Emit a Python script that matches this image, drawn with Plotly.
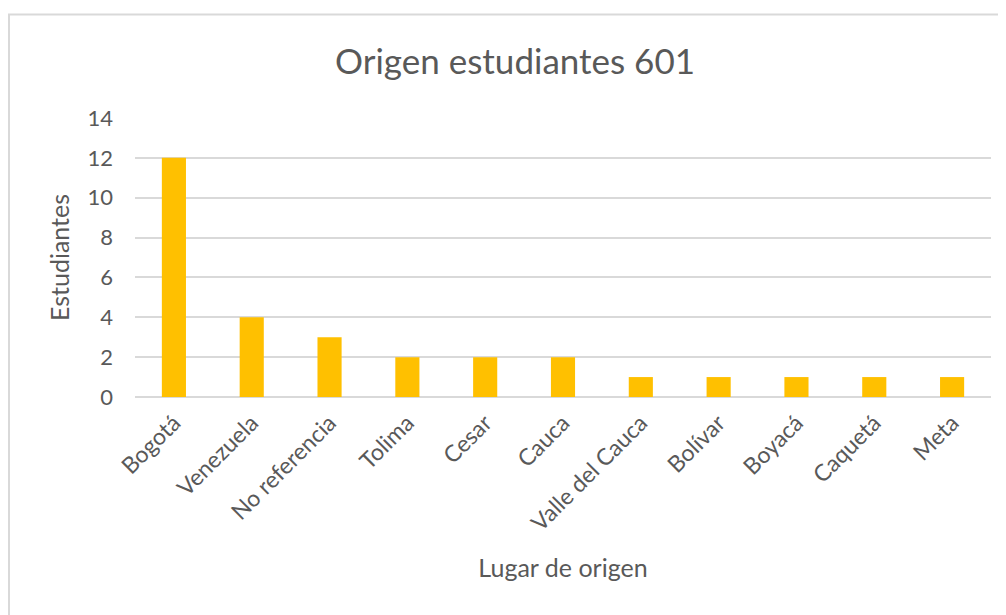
import plotly.graph_objects as go

categories = ["Bogotá", "Venezuela", "No referencia", "Tolima", "Cesar", "Cauca",
              "Valle del Cauca", "Bolívar", "Boyacá", "Caquetá", "Meta"]
estudiantes = [12, 4, 3, 2, 2, 2, 1, 1, 1, 1, 1]
y_ticks = [0, 2, 4, 6, 8, 10, 12, 14]

FONT = "Lato, Calibri, Carlito, sans-serif"
TXT = "#595959"
GRID = "#D9D9D9"

# page body has an 8px offset; plot area placed to match
L, T, W, H = 127, 110, 856, 279

fig = go.Figure(go.Bar(x=categories, y=estudiantes, marker_color="#FFC000",
                       marker_line_width=0))

fig.update_layout(
    width=1006, height=615,
    margin=dict(l=L, r=1006 - L - W, t=T, b=615 - T - H),
    paper_bgcolor="white", plot_bgcolor="white",
    bargap=0.69,
    showlegend=False,
    font=dict(family=FONT, color=TXT),
    title=dict(text="Origen estudiantes 601", x=507 / 1006, xanchor="center",
               y=1 - 54 / 615, yanchor="middle",
               font=dict(size=35, color=TXT, family=FONT)),
    xaxis=dict(tickangle=-45, tickfont=dict(size=23, color=TXT),
               showgrid=False, showline=False, ticks="", ticklabelstandoff=7,
               title=dict(text="Lugar de origen", font=dict(size=25, color=TXT),
                          standoff=24)),
    yaxis=dict(range=[0, 14], tickvals=y_ticks, tickfont=dict(size=22, color=TXT),
               showgrid=True, gridcolor=GRID, gridwidth=2,
               zeroline=True, zerolinecolor=GRID, zerolinewidth=2,
               showline=False, ticks="", ticklabelstandoff=21,
               title=dict(text="Estudiantes", font=dict(size=25, color=TXT),
                          standoff=10)),
)

fig.add_shape(type="rect", xref="paper", yref="paper",
              x0=(1 - L) / W, x1=(1012 - L) / W,
              y0=(T + H - 625) / H, y1=(T + H - 6.5) / H,
              line=dict(color="#D9D9D9", width=2), fillcolor="rgba(0,0,0,0)",
              layer="below")

fig.write_html("out.html")
